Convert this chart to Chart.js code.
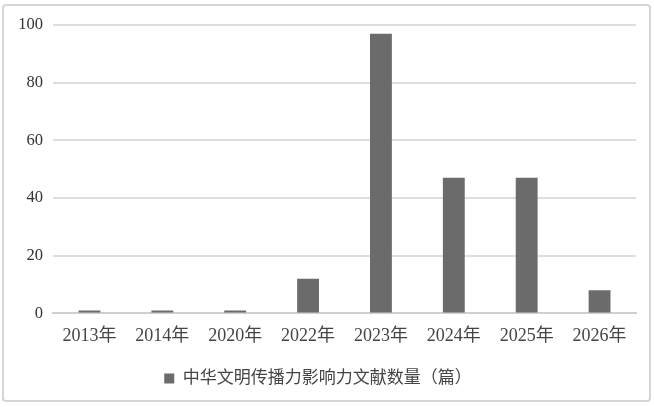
<!DOCTYPE html>
<html>
<head>
<meta charset="utf-8">
<script src="https://cdn.jsdelivr.net/npm/chart.js@4"></script>
<style>
html,body{margin:0;padding:0;background:#fff;}
#wrap{position:relative;width:654px;height:407px;}
</style>
</head>
<body>
<div id="wrap"><canvas id="chart"></canvas></div>
<script>
/* datos */
const years = ["2013年","2014年","2020年","2022年","2023年","2024年","2025年","2026年"];
const counts = [1, 1, 1, 12, 97, 47, 47, 8];
const seriesName = "中华文明传播力影响力文献数量（篇）";

const fontFamily = "'Liberation Serif', 'Noto Sans CJK SC', serif";

/* marco gris */
const frame = {
  id: "frame",
  beforeDraw(chart){
    const c = chart.ctx;
    c.save();
    c.fillStyle = "#fff";
    c.fillRect(0,0,chart.width,chart.height);
    c.strokeStyle = "#d6d6d6";
    c.lineWidth = 2;
    c.beginPath();
    c.roundRect(3,5,647,396,3);
    c.stroke();
    c.restore();
  }
};

new Chart(document.getElementById("chart"), {
  type: "bar",
  data: {
    labels: years,
    datasets: [{
      label: seriesName,
      data: counts,
      backgroundColor: "#6b6b6b",
      barPercentage: 0.3,
      categoryPercentage: 1
    }]
  },
  options: {
    responsive: true,
    maintainAspectRatio: false,
    devicePixelRatio: 1,
    animation: false,
    layout: { padding: { top: 25, right: 18, bottom: 10, left: 0 } },
    plugins: {
      tooltip: { enabled: false },
      legend: {
        position: "bottom",
        labels: {
          boxWidth: 10,
          boxHeight: 10,
          color: "#444",
          padding: 12,
          font: { family: fontFamily, size: 17 }
        }
      }
    },
    scales: {
      x: {
        grid: { display: false },
        border: { color: "#cfcfcf", width: 2 },
        afterFit(s){ s.height += 7; },
        ticks: { color: "#444", padding: 4, font: { family: fontFamily, size: 18 } }
      },
      y: {
        min: 0,
        max: 100,
        afterFit(s){ s.width = 53; },
        ticks: { stepSize: 20, color: "#333", padding: 10, font: { family: fontFamily, size: 16.5 } },
        grid: { color: "#dedede", lineWidth: 2, drawTicks: false },
        border: { display: false }
      }
    }
  },
  plugins: [frame]
});
</script>
</body>
</html>
